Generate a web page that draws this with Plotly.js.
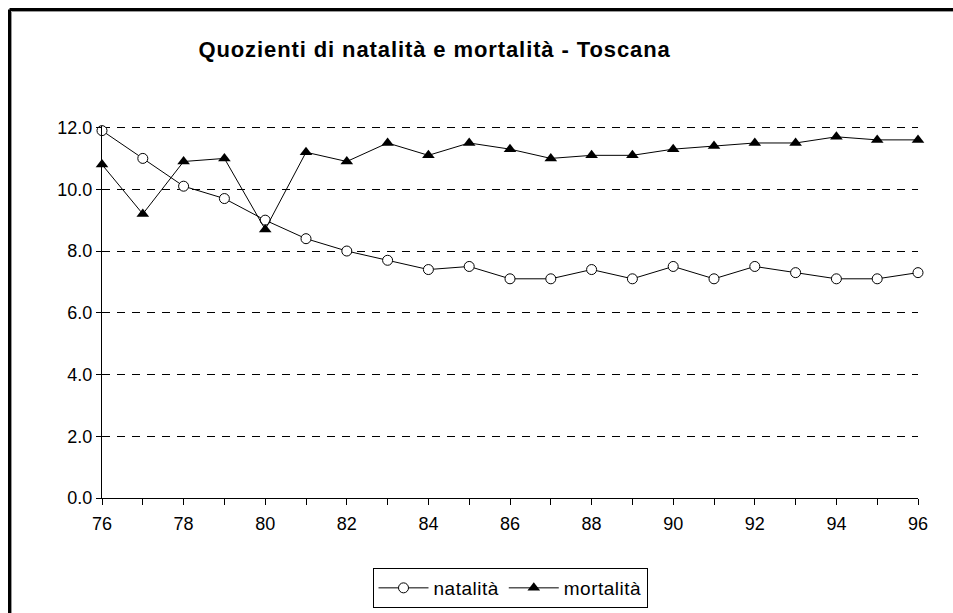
<!DOCTYPE html>
<html>
<head>
<meta charset="utf-8">
<script src="https://cdn.plot.ly/plotly-3.0.1.min.js"></script>
<style>
  html, body { margin: 0; padding: 0; background: #fff; overflow: hidden; width: 953px; height: 613px; }
  #chart { position: absolute; left: 0; top: 0; width: 953px; height: 613px; }
  #cover { position: absolute; left: 940px; top: 14px; width: 13px; height: 599px; background: #fff; z-index: 1000; }
  .gtitle { letter-spacing: 0.9px; }
  .legendtext { letter-spacing: 0.5px; }
</style>
</head>
<body>
<div id="chart"></div>
<div id="cover"></div>
<script>
const years = [76,77,78,79,80,81,82,83,84,85,86,87,88,89,90,91,92,93,94,95,96];
const natalita = [11.9,11.0,10.1,9.7,9.0,8.4,8.0,7.7,7.4,7.5,7.1,7.1,7.4,7.1,7.5,7.1,7.5,7.3,7.1,7.1,7.3];
const mortalita = [10.8,9.2,10.9,11.0,8.7,11.2,10.9,11.5,11.1,11.5,11.3,11.0,11.1,11.1,11.3,11.4,11.5,11.5,11.7,11.6,11.6];
const xTickLabels = ['76','','78','','80','','82','','84','','86','','88','','90','','92','','94','','96'];
const yTickVals = [0,2,4,6,8,10,12];
const yTickLabels = ['0.0','2.0','4.0','6.0','8.0','10.0','12.0'];

const W = 953, H = 613;
const M = { l: 102, r: 35, t: 126, b: 115 };
const pw = W - M.l - M.r, ph = H - M.t - M.b;
// outer frame (decoration): pixel positions converted to paper coordinates
const px = v => (v - M.l) / pw;
const py = v => (H - M.b - v) / ph;

const traces = [
  { x: years, y: natalita, name: 'natalità', type: 'scatter', mode: 'lines+markers',
    line: { color: '#000', width: 1 },
    marker: { symbol: 'circle', size: 10, color: '#fff', line: { color: '#000', width: 1 } },
    cliponaxis: false },
  { x: years, y: mortalita, name: 'mortalità', type: 'scatter', mode: 'lines+markers',
    line: { color: '#000', width: 1 },
    marker: { symbol: 'triangle-up', size: 11, color: '#000', line: { color: '#000', width: 0 } },
    cliponaxis: false }
];

const layout = {
  width: W, height: H,
  margin: M,
  paper_bgcolor: '#fff', plot_bgcolor: '#fff',
  font: { family: 'Liberation Sans, Arial, sans-serif', color: '#000', size: 17 },
  title: { text: '<b>Quozienti di natalità e mortalità - Toscana</b>',
           font: { family: 'Liberation Sans, Arial, sans-serif', size: 22, color: '#000' },
           x: 0.456, xref: 'container', xanchor: 'center',
           y: 0.92, yref: 'container', yanchor: 'middle' },
  xaxis: { range: [76, 96], tickmode: 'array', tickvals: years, ticktext: xTickLabels,
           showgrid: false, zeroline: false, showline: true, linecolor: '#000', linewidth: 1,
           ticks: 'outside', ticklen: 6, tickcolor: '#000', tickwidth: 1,
           ticklabelstandoff: 3,
           tickfont: { size: 18 }, fixedrange: true },
  yaxis: { range: [0, 12.05], tickmode: 'array', tickvals: yTickVals, ticktext: yTickLabels,
           showgrid: true, gridcolor: '#000', gridwidth: 1, griddash: '8px,7px',
           zeroline: false, showline: true, linecolor: '#000', linewidth: 1,
           ticks: 'outside', ticklen: 5, tickcolor: '#000', tickwidth: 1,
           tickfont: { size: 18 }, fixedrange: true },
  shapes: [
    { type: 'line', xref: 'paper', yref: 'paper', x0: px(9.5), x1: px(960), y0: py(9.5), y1: py(9.5),
      line: { color: '#000', width: 3 } },
    { type: 'line', xref: 'paper', yref: 'paper', x0: px(9.5), x1: px(9.5), y0: py(9.5), y1: py(620),
      line: { color: '#000', width: 3 } },
    { type: 'line', xref: 'paper', yref: 'paper', x0: px(11.5), x1: px(960), y0: py(11.5), y1: py(11.5),
      line: { color: '#999', width: 1 } },
    { type: 'line', xref: 'paper', yref: 'paper', x0: px(11.5), x1: px(11.5), y0: py(11.5), y1: py(620),
      line: { color: '#999', width: 1 } }
  ],
  showlegend: true,
  legend: { orientation: 'h', x: 0.5, xanchor: 'center', xref: 'paper',
            y: 1 - 588 / H, yref: 'container', yanchor: 'middle',
            bordercolor: '#000', borderwidth: 1, bgcolor: '#fff',
            font: { size: 19 }, itemwidth: 50, tracegroupgap: 0 }
};

Plotly.newPlot('chart', traces, layout, { displayModeBar: false, staticPlot: true });
</script>
</body>
</html>
